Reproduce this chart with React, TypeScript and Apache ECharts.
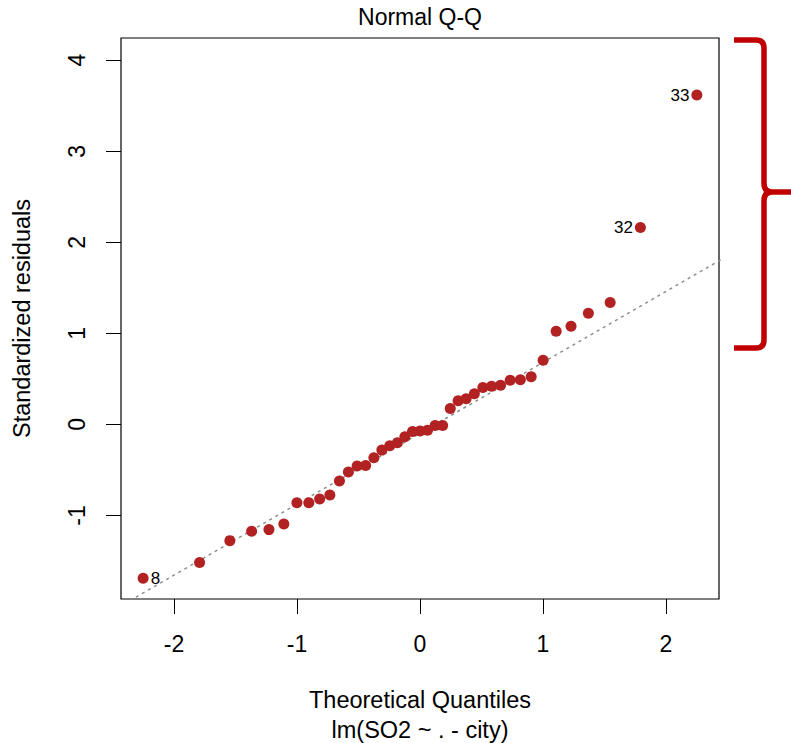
import React, { useEffect, useRef } from "react";
import * as echarts from "echarts";

// Theoretical quantiles (x) and standardized residuals (y)
const theoreticalQuantiles = [
  -2.251, -1.792, -1.546, -1.369, -1.228, -1.107, -1.001, -0.904, -0.816, -0.733,
  -0.655, -0.582, -0.511, -0.442, -0.375, -0.31, -0.246, -0.184, -0.123, -0.061,
  0, 0.061, 0.123, 0.184, 0.246, 0.31, 0.375, 0.442, 0.511, 0.582,
  0.655, 0.733, 0.816, 0.904, 1.001, 1.107, 1.228, 1.369, 1.546, 1.792, 2.251,
];
const standardizedResiduals = [
  -1.689, -1.517, -1.276, -1.173, -1.155, -1.093, -0.859, -0.859, -0.819, -0.775,
  -0.621, -0.523, -0.457, -0.45, -0.366, -0.282, -0.234, -0.201, -0.135, -0.077,
  -0.073, -0.063, -0.011, -0.011, 0.175, 0.26, 0.282, 0.337, 0.406, 0.42,
  0.431, 0.486, 0.49, 0.523, 0.705, 1.023, 1.078, 1.22, 1.338, 2.163, 3.618,
];

// Labelled observations
const labelIndex = [0, 39, 40];
const labelText = ["8", "32", "33"];
const labelSide = ["right", "left", "left"];

// Reference (qqline) endpoints, clipped to the plot
const refLineX = [-3, 3];
const refLineY = [-2.434, 2.24];

// Axis ranges and ticks
const xRange = [-2.431, 2.431];
const yRange = [-1.917, 4.244];
const xTicks = [-2, -1, 0, 1, 2];
const yTicks = [-1, 0, 1, 2, 3, 4];

const FONT = '"Liberation Sans", Arial, Helvetica, sans-serif';

const BRACE_D =
  "M 734 40 L 756 40 Q 764 40 764 48 L 764 183 Q 764 192 772 192 L 795 192 " +
  "M 772 192 Q 764 192 764 201 L 764 340 Q 764 348 756 348 L 734 348";

let registered = false;
function registerBrace() {
  if (registered) return;
  echarts.graphic.registerShape("brace", echarts.graphic.extendPath(BRACE_D, {}));
  registered = true;
}

export default function App() {
  const ref = useRef<HTMLDivElement>(null);

  useEffect(() => {
    if (!ref.current) return;
    registerBrace();
    const chart = echarts.init(ref.current, null, { renderer: "svg" });

    const scatterData = theoreticalQuantiles.map((x, i) => {
      const k = labelIndex.indexOf(i);
      const item: any = { value: [x, standardizedResiduals[i]] };
      if (k >= 0) {
        item.label = {
          show: true,
          formatter: labelText[k],
          position: labelSide[k],
          distance: 2,
          color: "#000",
          fontSize: 17,
          fontFamily: FONT,
        };
      }
      return item;
    });

    const tickStyle = {
      show: true,
      inside: false,
      length: 15,
      lineStyle: { color: "#000", width: 1 },
    };

    chart.setOption({
      animation: false,
      backgroundColor: "#fff",
      grid: {
        left: 121,
        top: 38,
        width: 598,
        height: 561,
        show: true,
        borderColor: "#000",
        borderWidth: 1.2,
        backgroundColor: "transparent",
        containLabel: false,
        outerBoundsMode: "none",
      },
      xAxis: {
        type: "value",
        min: xRange[0],
        max: xRange[1],
        axisLine: { show: false, onZero: false },
        splitLine: { show: false },
        axisTick: { ...tickStyle, customValues: xTicks },
        axisLabel: {
          customValues: xTicks,
          margin: 33,
          color: "#000",
          fontSize: 23,
          fontFamily: FONT,
        },
      },
      yAxis: {
        type: "value",
        min: yRange[0],
        max: yRange[1],
        axisLine: { show: false, onZero: false },
        splitLine: { show: false },
        axisTick: { ...tickStyle, customValues: yTicks },
        axisLabel: {
          customValues: yTicks,
          margin: 33,
          rotate: 90,
          color: "#000",
          fontSize: 23,
          fontFamily: FONT,
        },
        name: "Standardized residuals",
        nameLocation: "middle",
        nameGap: 87,
        nameRotate: 90,
        nameTextStyle: { color: "#000", fontSize: 23.5, fontFamily: FONT },
      },
      series: [
        {
          type: "line",
          data: refLineX.map((x, i) => [x, refLineY[i]]),
          showSymbol: false,
          symbol: "none",
          clip: true,
          silent: true,
          lineStyle: { color: "#8c8c8c", width: 1.5, type: [3, 4] },
          z: 1,
        },
        {
          type: "scatter",
          data: scatterData,
          symbol: "circle",
          symbolSize: 11,
          itemStyle: { color: "#B22222", opacity: 1 },
          z: 2,
        },
      ],
      graphic: [
        {
          type: "text",
          x: 420,
          y: 17,
          style: {
            text: "Normal Q-Q",
            fontSize: 23,
            fontFamily: FONT,
            fill: "#000",
            align: "center",
            verticalAlign: "middle",
          },
        },
        {
          type: "text",
          x: 420,
          y: 700,
          style: {
            text: "Theoretical Quantiles",
            fontSize: 23.5,
            fontFamily: FONT,
            fill: "#000",
            align: "center",
            verticalAlign: "middle",
          },
        },
        {
          type: "text",
          x: 420,
          y: 730,
          style: {
            text: "lm(SO2 ~ . - city)",
            fontSize: 23.5,
            fontFamily: FONT,
            fill: "#000",
            align: "center",
            verticalAlign: "middle",
          },
        },
        {
          type: "brace",
          x: 0,
          y: 0,
          style: {
            fill: "none",
            stroke: "#c00000",
            lineWidth: 5.5,
            lineJoin: "round",
            lineCap: "butt",
          },
        },
      ],
    });

    return () => chart.dispose();
  }, []);

  return (
    <div
      ref={ref}
      style={{ position: "fixed", left: 0, top: 0, width: 791, height: 743, background: "#fff" }}
    />
  );
}
